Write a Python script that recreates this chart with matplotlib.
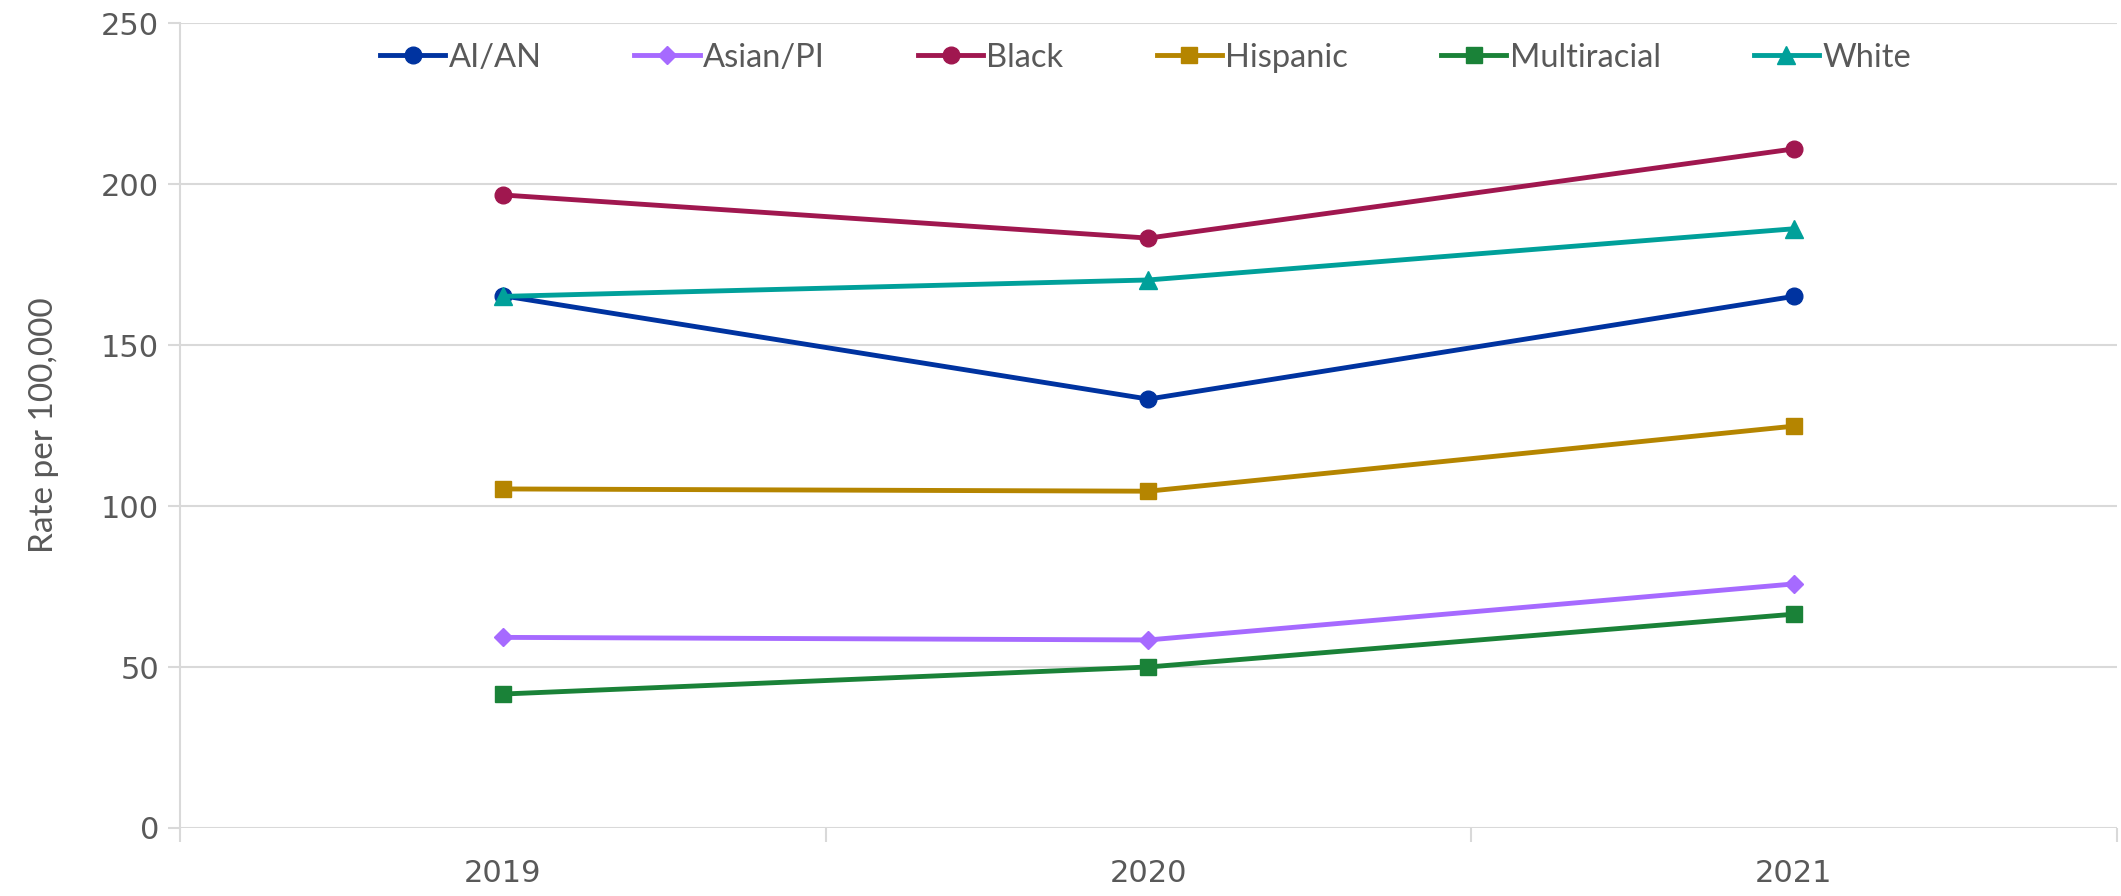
import matplotlib
matplotlib.use("Agg")
import matplotlib.pyplot as plt

years = ["2019", "2020", "2021"]
series_names = ["AI/AN", "Asian/PI", "Black", "Hispanic", "Multiracial", "White"]
aian = [165.3, 133.2, 165.1]
asian_pi = [59.2, 58.4, 75.8]
black = [196.6, 183.2, 210.9]
hispanic = [105.3, 104.6, 124.8]
multiracial = [41.6, 50.0, 66.4]
white = [165.1, 170.2, 186.1]
yticks = [0, 50, 100, 150, 200, 250]

values = [aian, asian_pi, black, hispanic, multiracial, white]
colors = ["#0033A0", "#A66AFF", "#A0174F", "#B58500", "#1A8238", "#00A09A"]
markers = ["o", "D", "o", "s", "s", "^"]
msizes = [12, 9, 12, 12, 12, 13]

fig = plt.figure(figsize=(21.21, 8.96), dpi=100)
ax = fig.add_axes([0.0849, 0.0759, 0.913, 0.8984])

x = list(range(len(years)))
for name, vals, c, m, ms in zip(series_names, values, colors, markers, msizes):
    ax.plot(x, vals, color=c, lw=3.5, marker=m, ms=ms, mec=c, mfc=c, label=name)

ax.set_xlim(-0.5, 2.5)
ax.set_ylim(0, 250)
ax.set_yticks(yticks)
ax.set_yticklabels([str(v) for v in yticks])
ax.yaxis.grid(True, color="#D9D9D9", lw=1.5)
ax.set_axisbelow(True)
for s in ["top", "right", "bottom"]:
    ax.spines[s].set_visible(False)
ax.spines["left"].set_color("#D9D9D9")
ax.spines["left"].set_linewidth(1.5)
ax.tick_params(axis="y", length=9, width=1.5, color="#D9D9D9", labelsize=22,
               labelcolor="#595959", pad=6)

ax.set_xticks(x)
ax.set_xticklabels(years)
ax.tick_params(axis="x", which="major", length=0, labelsize=22, labelcolor="#595959", pad=22)
ax.set_xticks([-0.5, 0.5, 1.5, 2.5], minor=True)
ax.tick_params(axis="x", which="minor", length=10, width=1.5, color="#D9D9D9")

ax.set_ylabel("Rate per 100,000", fontsize=24, color="#595959", family="Lato", labelpad=30)

leg = ax.legend(loc="upper center", bbox_to_anchor=(0.4985, 1.0), ncol=6, frameon=False,
                prop={"family": "Lato", "size": 23.5}, handlelength=2.0, handletextpad=0.1,
                columnspacing=2.85, borderaxespad=0.2)
for t in leg.get_texts():
    t.set_color("#595959")

fig.savefig("out.png", dpi=100)
